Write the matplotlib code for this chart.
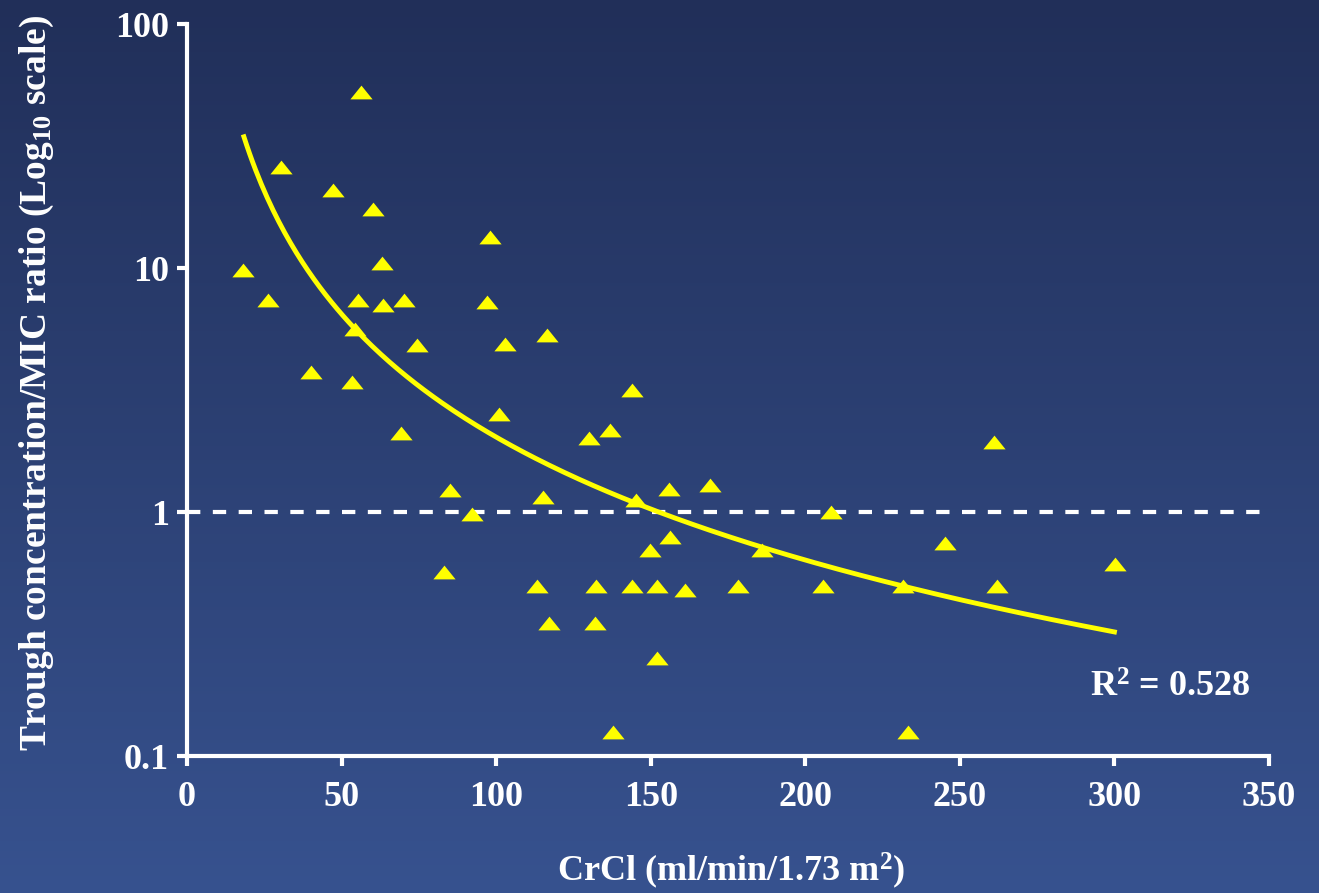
import numpy as np
import matplotlib
matplotlib.use("Agg")
import matplotlib.pyplot as plt
from matplotlib.colors import LinearSegmentedColormap

plt.rcParams['font.family'] = ['Liberation Serif', 'DejaVu Serif']
plt.rcParams['font.weight'] = 'bold'
plt.rcParams['axes.labelweight'] = 'bold'
plt.rcParams['mathtext.fontset'] = 'custom'
plt.rcParams['mathtext.rm'] = 'Liberation Serif:bold'
plt.rcParams['mathtext.default'] = 'rm'

# creatinine clearance (ml/min/1.73 m2) and trough/MIC ratio per patient
crcl = [18.1, 26.2, 30.3, 40.1, 47.2, 53.4, 54.4, 55.3, 56.3, 60.2,
        63.1, 63.4, 69.2, 70.2, 74.4, 83.1, 85.1, 92.2, 97.1, 98.0,
        100.9, 102.9, 113.2, 115.2, 116.5, 117.1, 130.1, 132.0, 132.3, 136.8,
        137.8, 144.0, 144.0, 145.3, 149.8, 152.1, 152.1, 156.3, 155.9, 161.1,
        169.2, 178.3, 186.0, 205.8, 208.3, 231.6, 233.3, 245.2, 261.1, 262.1,
        300.2]
ratio = [9.8, 7.4, 25.9, 3.75, 20.9, 3.41, 5.62, 7.4, 52.6, 17.5,
         10.5, 7.05, 2.11, 7.4, 4.83, 0.568, 1.23, 0.98, 7.26, 13.4,
         2.52, 4.88, 0.497, 1.15, 5.31, 0.351, 2.01, 0.351, 0.497, 2.17,
         0.125, 0.497, 3.16, 1.12, 0.70, 0.497, 0.252, 0.79, 1.24, 0.479,
         1.29, 0.497, 0.70, 0.497, 1.0, 0.497, 0.125, 0.746, 1.94, 0.497,
         0.612]

# power-law fit  y = a * x^b
fit_a = 4520.0
fit_b = -1.674
fit_range = (18.4, 300.0)
r_squared = 0.528

xticks = [0, 50, 100, 150, 200, 250, 300, 350]
yticks = [0.1, 1, 10, 100]
ytick_labels = ['0.1', '1', '10', '100']

fig = plt.figure(figsize=(13.19, 8.93), dpi=100)

# vertical gradient background
bg = fig.add_axes([0, 0, 1, 1], zorder=-10)
grad = np.linspace(0, 1, 256).reshape(-1, 1)
cmap = LinearSegmentedColormap.from_list('bg', ['#212f59', '#37528f'])
bg.imshow(grad, aspect='auto', cmap=cmap, extent=[0, 1, 0, 1], origin='upper')
bg.axis('off')

ax = fig.add_axes([0.1418, 0.1534, 0.8203, 0.8197])
ax.set_facecolor('none')
ax.set_yscale('log')
ax.set_xlim(0, 350)
ax.set_ylim(0.1, 100)

tri = [(-1, -0.62), (1, -0.62), (0, 0.62)]
ax.plot(crcl, ratio, linestyle='none', marker=tri, markersize=16,
        color='#ffff00', markeredgewidth=0, zorder=4)

xs = np.linspace(fit_range[0], fit_range[1], 300)
ax.plot(xs, fit_a * xs ** fit_b, color='#ffff00', lw=3.5, zorder=3)

ax.axhline(1, color='white', lw=3, dashes=(3.2, 3.0), zorder=2)

ax.text(318, 0.19, 'R$^2$ = %.3f' % r_squared, color='white', fontsize=26,
        fontweight='bold', ha='center', va='center')

for side in ['top', 'right']:
    ax.spines[side].set_visible(False)
for side in ['left', 'bottom']:
    ax.spines[side].set_color('white')
    ax.spines[side].set_linewidth(3)

ax.set_xticks(xticks)
ax.set_xticklabels([str(t) for t in xticks])
ax.set_yticks(yticks)
ax.set_yticklabels(ytick_labels)
ax.minorticks_off()
ax.tick_params(axis='both', colors='white', width=3, length=7)
ax.tick_params(axis='x', labelsize=26, pad=11)
ax.tick_params(axis='y', labelsize=26, pad=6)

ax.set_xlabel('CrCl (ml/min/1.73 m$^2$)', color='white', fontsize=26)
ax.set_ylabel('Trough concentration/MIC ratio (Log$_{10}$ scale)', color='white',
              fontsize=27)
ax.xaxis.set_label_coords(0.503, -0.129)
ax.yaxis.set_label_coords(-0.121, 0.509)

fig.savefig('out.png', dpi=100)
